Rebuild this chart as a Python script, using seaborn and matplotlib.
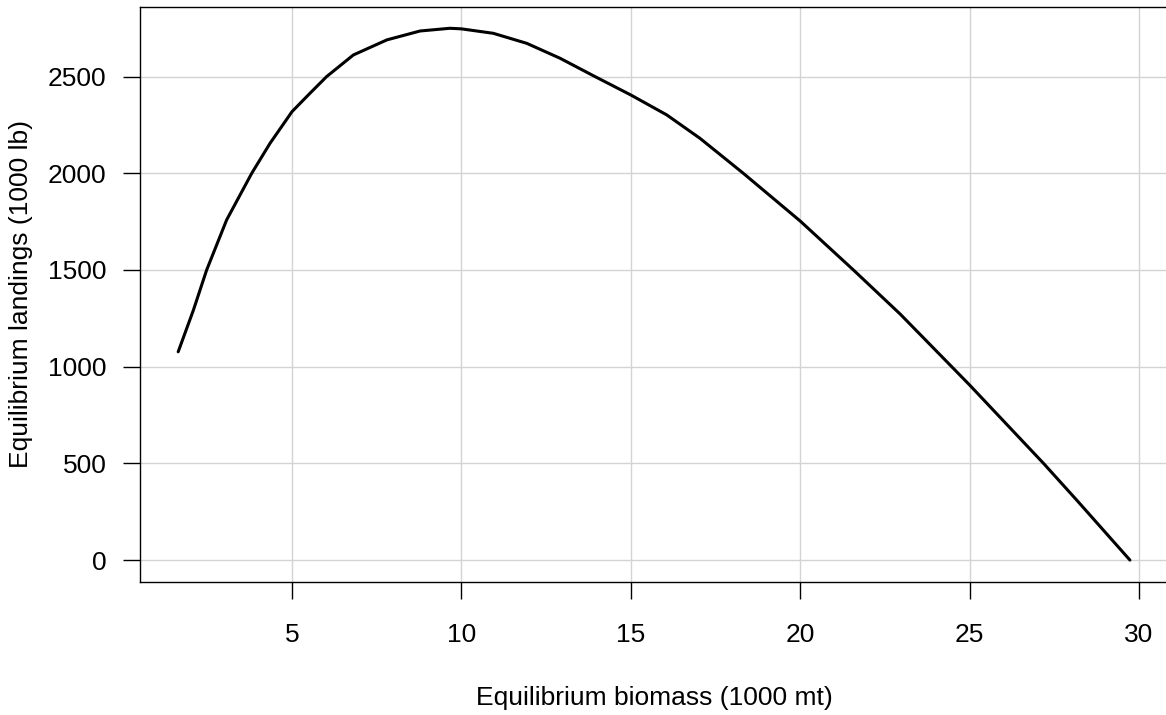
import numpy as np
import pandas as pd
import matplotlib
matplotlib.use("Agg")
import matplotlib.pyplot as plt
import seaborn as sns

# equilibrium curve
biomass = [1.64, 2.09, 2.48, 3.07, 3.81, 4.35, 5.0, 5.53, 6.02, 6.81, 7.80, 8.78,
           9.66, 10.0, 10.94, 11.93, 12.91, 13.89, 15.0, 16.06, 17.04, 18.32, 20.0,
           21.57, 22.95, 24.47, 25.0, 27.18, 28.16, 29.73]
landings = [1077, 1293, 1500, 1759, 2000, 2155, 2319, 2414, 2500, 2612, 2690, 2736,
            2750, 2747, 2724, 2672, 2595, 2505, 2405, 2302, 2181, 2000, 1753,
            1500, 1272, 1000, 905, 500, 310, 0]

x_ticks = [5, 10, 15, 20, 25, 30]
y_ticks = [0, 500, 1000, 1500, 2000, 2500]

df = pd.DataFrame({"biomass": biomass, "landings": landings})

sns.set_style("white")
plt.rcParams['font.family'] = ['Liberation Sans', 'DejaVu Sans']
plt.rcParams['text.color'] = 'black'
plt.rcParams['axes.labelcolor'] = 'black'
plt.rcParams['xtick.color'] = 'black'
plt.rcParams['ytick.color'] = 'black'

fig = plt.figure(figsize=(11.66, 7.15), dpi=100)
ax = fig.add_axes([0.1201, 0.1864, 0.8815, 0.8038])

sns.lineplot(data=df, x="biomass", y="landings", color="black", linewidth=2.2, ax=ax)

ax.set_xlim(0.514, 30.85)
ax.set_ylim(-112, 2860)
ax.set_xticks(x_ticks)
ax.set_yticks(y_ticks)
ax.grid(True, color="#d3d3d3", linewidth=1.0)
ax.set_axisbelow(True)

for s in ax.spines.values():
    s.set_color("black")
    s.set_linewidth(1.0)

ax.tick_params(axis="both", direction="out", length=12, width=1.0, color="black",
               labelcolor="black", labelsize=19, left=True, bottom=True)
ax.tick_params(axis="x", pad=18)
ax.tick_params(axis="y", pad=12)

ax.set_xlabel("Equilibrium biomass (1000 mt)", fontsize=19, color="black")
ax.set_ylabel("Equilibrium landings (1000 lb)", fontsize=19, color="black")
ax.xaxis.set_label_coords(0.5, -0.181)
ax.yaxis.set_label_coords(-0.104, 0.5)

fig.savefig("out.png", dpi=100)
